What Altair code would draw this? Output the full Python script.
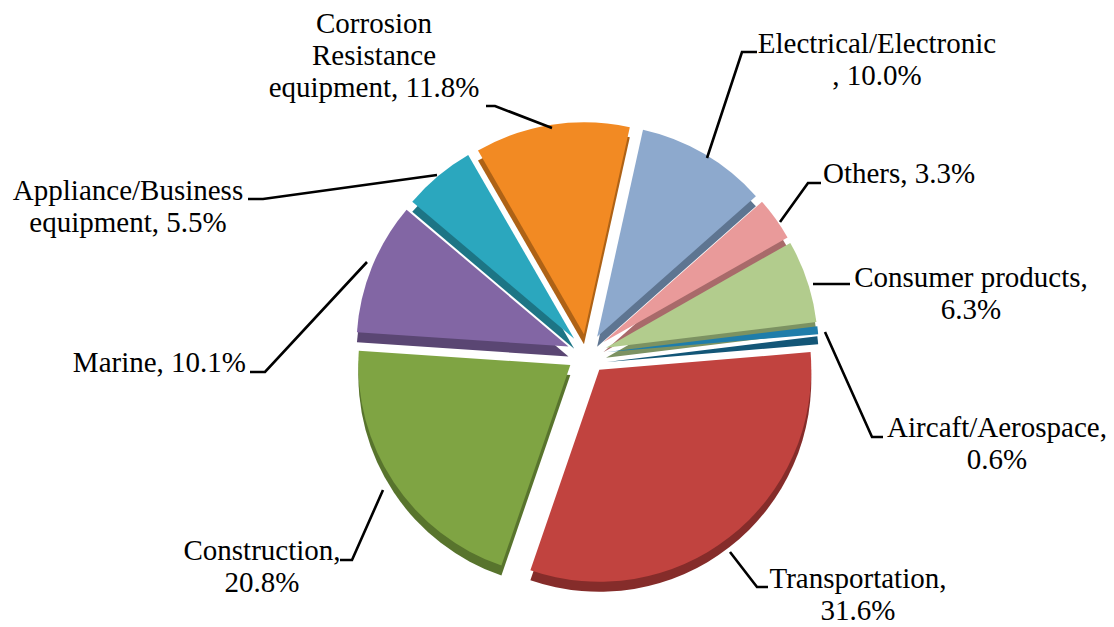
import altair as alt
import pandas as pd

# ---- data ----
CATS = ["Electrical/Electronic", "Others", "Consumer products", "Aircaft/Aerospace",
        "Transportation", "Construction", "Marine", "Appliance/Business equipment",
        "Corrosion Resistance equipment"]
VALUES = [10.0, 3.3, 6.3, 0.6, 31.6, 20.8, 10.1, 5.5, 11.8]
LABELS = [
    "Electrical/Electronic\n, 10.0%",
    "Others, 3.3%",
    "Consumer products,\n6.3%",
    "Aircaft/Aerospace,\n0.6%",
    "Transportation,\n31.6%",
    "Construction,\n20.8%",
    "Marine, 10.1%",
    "Appliance/Business\nequipment, 5.5%",
    "Corrosion\nResistance\nequipment, 11.8%",
]

# ---- styles ----
COLORS = ["#8DA9CD", "#E99A9A", "#B2CC8D", "#1F7DAA", "#C1433F",
          "#7FA443", "#8266A4", "#2BA7BE", "#F28A23"]
DARK = ["#5E7591", "#A86A6A", "#7C9262", "#135677", "#852C2A",
        "#58742D", "#5A4673", "#1D7585", "#AE6216"]
FONT = "'Liberation Serif', 'DejaVu Serif', serif"

# ---- layout (pixels) ----
W, H = 1114, 627
CX, CY = 587, 354          # pie centre
R = 212                    # pie radius
EX = 20                    # explode distance
DEPTH = 10                 # 3D thickness
T0 = 0.218                 # start angle (rad, clockwise from 12 o'clock)

# label anchors: (x, first-line baseline y, align)
LABEL_POS = [
    (877, 53, "center"),
    (823, 183, "left"),
    (971, 287, "center"),
    (997, 437, "center"),
    (858, 588, "center"),
    (262, 560, "center"),
    (246, 372, "right"),
    (128, 200, "center"),
    (374, 33, "center"),
]
# leader polylines
LEADERS = [
    [(707, 158), (742, 52), (757, 52)],
    [(780, 222), (808, 183), (821, 183)],
    [(813, 284), (850, 284)],
    [(825, 332), (872, 437), (883, 437)],
    [(730, 552), (757, 587), (768, 587)],
    [(383, 490), (352, 560), (340, 560)],
    [(367, 262), (265, 372), (250, 372)],
    [(437, 175), (263, 199), (248, 199)],
    [(552, 128), (495, 106), (486, 106)],
]

df = pd.DataFrame({"cat": CATS, "value": VALUES, "order": list(range(len(CATS)))})

lab_df = pd.DataFrame({
    "cat": CATS,
    "label": LABELS,
    "lx": [p[0] for p in LABEL_POS],
    "ly": [p[1] for p in LABEL_POS],
    "align": [p[2] for p in LABEL_POS],
})

rows = []
for c, pts in zip(CATS, LEADERS):
    for i, (x, y) in enumerate(pts):
        rows.append({"cat": c, "seq": i, "x": x, "y": y})
lead_df = pd.DataFrame(rows)

base = alt.Chart(df).transform_window(
    cum="sum(value)", sort=[alt.SortField("order")], frame=[None, 0]
).transform_calculate(
    t1=f"{T0} + datum.cum * 2 * PI / 100",
).transform_calculate(
    t0="datum.t1 - datum.value * 2 * PI / 100",
).transform_calculate(
    mid="(datum.t0 + datum.t1) / 2",
).transform_calculate(
    px=f"{CX} + {EX} * sin(datum.mid)",
    py=f"{CY} - {EX} * cos(datum.mid)",
).transform_calculate(
    pyd=f"datum.py + {DEPTH}",
)

depth = base.mark_arc(radius=R).encode(
    x=alt.X("px:Q", scale=None, axis=None),
    y=alt.Y("pyd:Q", scale=None, axis=None),
    theta=alt.Theta("t0:Q", scale=None, stack=None),
    theta2=alt.Theta2("t1:Q"),
    color=alt.Color("cat:N", scale=alt.Scale(domain=CATS, range=DARK), legend=None),
)

top = base.mark_arc(radius=R).encode(
    x=alt.X("px:Q", scale=None, axis=None),
    y=alt.Y("py:Q", scale=None, axis=None),
    theta=alt.Theta("t0:Q", scale=None, stack=None),
    theta2=alt.Theta2("t1:Q"),
    color=alt.Color("cat:N", scale=alt.Scale(domain=CATS, range=COLORS), legend=None),
)

leaders = alt.Chart(lead_df).mark_line(color="black", strokeWidth=2.6).encode(
    x=alt.X("x:Q", scale=None, axis=None),
    y=alt.Y("y:Q", scale=None, axis=None),
    detail="cat:N",
    order="seq:Q",
)

text_layers = []
for al in ["center", "left", "right"]:
    text_layers.append(
        alt.Chart(lab_df).transform_filter(f"datum.align == '{al}'").mark_text(
            font=FONT, fontSize=29, lineHeight=32, baseline="alphabetic",
            align=al, lineBreak="\n", color="black",
        ).encode(
            x=alt.X("lx:Q", scale=None, axis=None),
            y=alt.Y("ly:Q", scale=None, axis=None),
            text="label:N",
        )
    )

chart = alt.layer(depth, top, leaders, *text_layers).resolve_scale(
    color="independent"
).properties(
    width=W, height=H, autosize="none", padding=0, background="white"
).configure_view(stroke=None).configure_text(font=FONT)

chart.save("out.html", embed_options={"renderer": "svg", "actions": False})
